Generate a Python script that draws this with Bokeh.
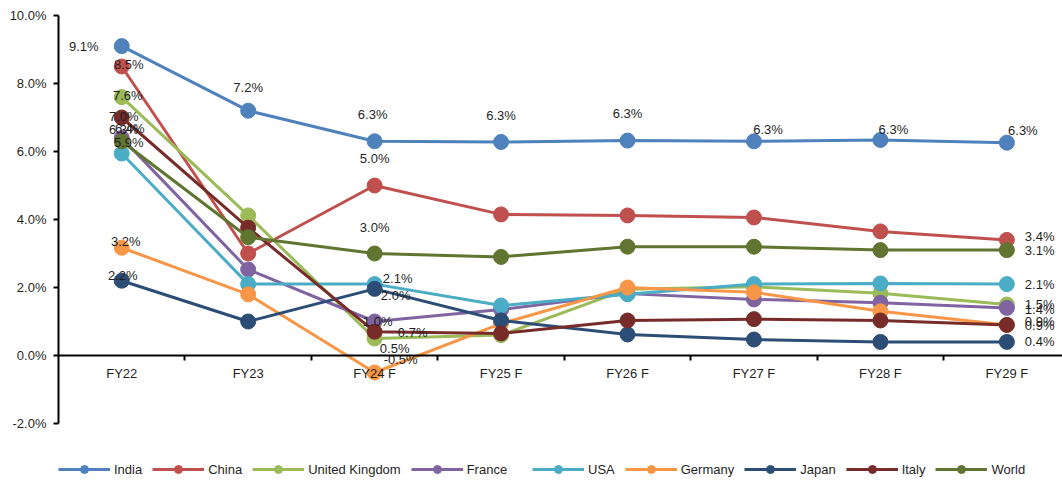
from bokeh.plotting import figure
from bokeh.models import (Range1d, LinearAxis, FixedTicker, PrintfTickFormatter,
                          Legend, LegendItem, ColumnDataSource)
from bokeh.core.properties import value
from bokeh.embed import file_html
from bokeh.resources import INLINE

# ---------------- data ----------------
categories = ["FY22", "FY23", "FY24 F", "FY25 F", "FY26 F", "FY27 F", "FY28 F", "FY29 F"]
series_names = ["India", "China", "United Kingdom", "France", "USA", "Germany", "Japan", "Italy", "World"]
india = [9.1, 7.2, 6.3, 6.28, 6.32, 6.3, 6.34, 6.26]
china = [8.5, 3.0, 5.0, 4.15, 4.12, 4.06, 3.65, 3.4]
uk = [7.6, 4.12, 0.5, 0.6, 1.95, 2.02, 1.83, 1.5]
france = [6.4, 2.53, 1.0, 1.35, 1.82, 1.65, 1.55, 1.4]
usa = [5.94, 2.1, 2.1, 1.47, 1.8, 2.1, 2.12, 2.1]
germany = [3.17, 1.8, -0.5, 0.94, 2.0, 1.86, 1.3, 0.9]
japan = [2.2, 1.0, 1.96, 1.03, 0.62, 0.47, 0.4, 0.4]
italy = [7.0, 3.76, 0.7, 0.65, 1.03, 1.07, 1.03, 0.9]
world = [6.3, 3.48, 3.0, 2.9, 3.2, 3.2, 3.1, 3.1]
y_ticks = [-2, 0, 2, 4, 6, 8, 10]

series_values = [india, china, uk, france, usa, germany, japan, italy, world]
colors = ["#4F81BD", "#C0504D", "#9BBB59", "#8064A2", "#4BACC6",
          "#F79646", "#2C4D75", "#772C2A", "#5F7530"]

# label placement style: (index, dx px, dy px (down), align)
label_style = {
    "India": [(0, -38, 0, "center"), (1, 0, -23, "center"), (2, -2, -27, "center"),
              (3, 0, -26, "center"), (4, 0, -27, "center"), (5, 14, -12, "center"),
              (6, 13, -10, "center"), (7, 16, -12, "center")],
    "China": [(0, 7, -2, "center"), (2, 0, -27, "center"), (7, 18, -3, "left")],
    "United Kingdom": [(0, 6, -2, "center"), (2, 20, 10, "center"), (7, 18, 0, "left")],
    "France": [(0, 8, -9, "center"), (2, 3, 0, "center"), (7, 18, 2, "left")],
    "USA": [(0, 7, -11, "center"), (2, 23, -6, "center"), (7, 18, 0, "left")],
    "Germany": [(0, 4, -6, "center"), (2, 26, -13, "center"), (7, 18, -3, "left")],
    "Japan": [(0, 1, -5, "center"), (2, 21, 7, "center"), (7, 18, 0, "left")],
    "Italy": [(0, 2, -1, "center"), (2, 38, 1, "center"), (7, 18, 1, "left")],
    "World": [(0, 2, -12, "center"), (2, 0, -26, "center"), (7, 18, 0, "left")],
}

FONT = "Liberation Sans"
TXT = "#1f1f1f"

x_idx = list(range(len(categories)))

# frame spans to the bottom of the canvas so the legend can sit inside it
p = figure(width=1062, height=482,
           x_range=Range1d(-0.5, 7.44), y_range=Range1d(-3.735, 10),
           output_backend="svg", toolbar_location=None,
           x_axis_type=None, y_axis_type=None,
           min_border_left=58, min_border_right=0, min_border_top=15, min_border_bottom=0)
p.outline_line_color = None
p.background_fill_color = "white"
p.border_fill_color = "white"

# y axis
yaxis = LinearAxis(ticker=FixedTicker(ticks=y_ticks), bounds=(min(y_ticks), max(y_ticks)),
                   formatter=PrintfTickFormatter(format="%.1f%%"))
yaxis.axis_line_width = 2
yaxis.axis_line_color = "black"
yaxis.major_tick_out = 5
yaxis.major_tick_in = 0
yaxis.major_tick_line_width = 2
yaxis.minor_tick_line_color = None
yaxis.major_label_standoff = 7
yaxis.major_label_text_font = FONT
yaxis.major_label_text_font_size = "13px"
yaxis.major_label_text_color = TXT
p.add_layout(yaxis, "left")

# x axis at y=0 : line + boundary ticks
xtick_axis = LinearAxis(fixed_location=0,
                        ticker=FixedTicker(ticks=[i + 0.5 for i in x_idx[:-1]]))
xtick_axis.axis_line_width = 2
xtick_axis.axis_line_color = "black"
xtick_axis.major_tick_out = 5
xtick_axis.major_tick_in = 0
xtick_axis.major_tick_line_width = 2
xtick_axis.minor_tick_line_color = None
xtick_axis.major_label_text_font_size = "0px"
xtick_axis.major_label_text_alpha = 0
p.add_layout(xtick_axis, "below")

# category labels
xlab_axis = LinearAxis(fixed_location=0, ticker=FixedTicker(ticks=x_idx),
                       major_label_overrides={i: c for i, c in enumerate(categories)})
xlab_axis.axis_line_color = None
xlab_axis.major_tick_line_color = None
xlab_axis.major_tick_out = 0
xlab_axis.major_tick_in = 0
xlab_axis.minor_tick_line_color = None
xlab_axis.major_label_standoff = 10
xlab_axis.major_label_text_font = FONT
xlab_axis.major_label_text_font_size = "13px"
xlab_axis.major_label_text_color = TXT
p.add_layout(xlab_axis, "below")

items = []
for name, vals, col in zip(series_names, series_values, colors):
    src = ColumnDataSource(dict(x=x_idx, y=vals))
    ln = p.line("x", "y", source=src, line_color=col, line_width=3)
    sc = p.scatter("x", "y", source=src, marker="circle", size=15,
                   fill_color=col, line_color=col)
    items.append(LegendItem(label=name, renderers=[ln, sc]))

# data labels
lx, ly, lt, ldx, ldy, lal = [], [], [], [], [], []
for name, vals in zip(series_names, series_values):
    for (i, dx, dy, al) in label_style[name]:
        lx.append(x_idx[i]); ly.append(vals[i])
        lt.append(f"{vals[i]:.1f}%")
        ldx.append(dx); ldy.append(dy); lal.append(al)
lsrc = ColumnDataSource(dict(x=lx, y=ly, t=lt, dx=ldx, dy=ldy, al=lal))
p.text(x="x", y="y", text="t", source=lsrc, x_offset="dx", y_offset="dy",
       text_align="al", text_baseline="middle", text_font=value(FONT),
       text_font_size="13px", text_color=TXT)

def make_legend(its, loc):
    lg = Legend(items=its, location=loc, orientation="horizontal")
    lg.glyph_width = 52
    lg.glyph_height = 20
    lg.label_standoff = 4
    lg.spacing = 10
    lg.padding = 0
    lg.margin = 0
    lg.border_line_color = None
    lg.background_fill_alpha = 0
    lg.label_text_font = FONT
    lg.label_text_font_size = "13px"
    lg.label_text_color = TXT
    return lg

p.add_layout(make_legend(items[:4], (0, 3)))
p.add_layout(make_legend(items[4:], (474, 3)))

open("out.html", "w").write(file_html(p, INLINE))
